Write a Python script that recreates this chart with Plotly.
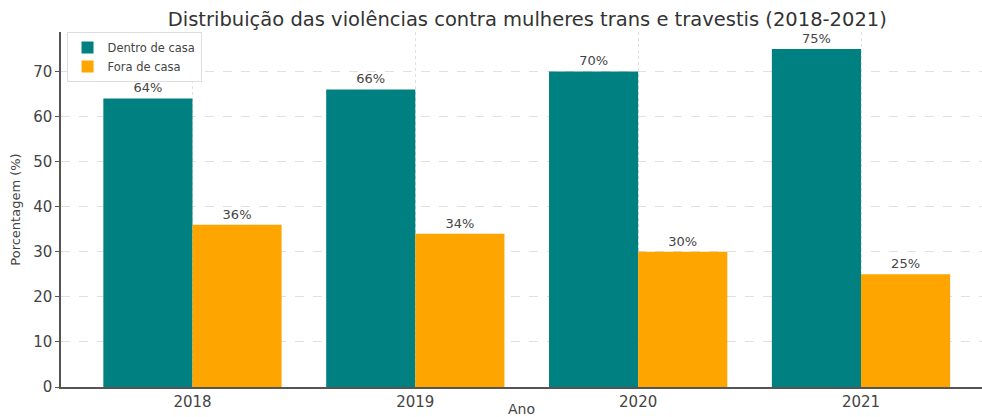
import plotly.graph_objects as go

anos = ["2018", "2019", "2020", "2021"]
dentro_de_casa = [64, 66, 70, 75]
fora_de_casa = [36, 34, 30, 25]

TEAL = "#008080"
ORANGE = "#FFA500"
TXT = "#444444"

fig = go.Figure()
for nome, vals, cor in [("Dentro de casa", dentro_de_casa, TEAL),
                        ("Fora de casa", fora_de_casa, ORANGE)]:
    fig.add_trace(go.Bar(
        x=anos, y=vals, name=nome, marker=dict(color=cor, line=dict(width=0)),
        text=[f"{v}%" for v in vals], textposition="outside",
        textfont=dict(size=13, color=TXT), cliponaxis=False,
    ))

fig.update_layout(
    width=982, height=417,
    margin=dict(l=61, r=0, t=32, b=30),
    paper_bgcolor="white", plot_bgcolor="white",
    font=dict(family="DejaVu Sans", color=TXT),
    title=dict(text="Distribuição das violências contra mulheres trans e travestis (2018-2021)",
               x=0.537, xanchor="center", y=0.954, yanchor="middle",
               font=dict(size=19.5, color="#333333")),
    barmode="group", bargap=0.2, bargroupgap=0,
    legend=dict(x=0.006, y=1.0, xanchor="left", yanchor="top",
                bgcolor="white", bordercolor="#dddddd", borderwidth=1,
                font=dict(size=11.5, color=TXT), tracegroupgap=0,
                itemwidth=30),
    showlegend=True,
)
fig.update_xaxes(
    type="category", range=[-0.59, 3.543], automargin=False,
    showline=True, linecolor="#555555", linewidth=1.5,
    showgrid=True, gridcolor="#e0e0e0", griddash="dot",
    ticks="", tickfont=dict(size=15, color=TXT),
    title=dict(text="Ano", font=dict(size=14, color=TXT), standoff=0),
)
fig.update_yaxes(
    range=[0, 78.75], dtick=10, automargin=False,
    showline=True, linecolor="#555555", linewidth=1.5,
    showgrid=True, gridcolor="#e0e0e0", griddash="dash",
    ticks="outside", ticklen=4, tickcolor="#555555",
    tickfont=dict(size=15, color=TXT),
    title=dict(text="Porcentagem (%)", font=dict(size=13, color=TXT), standoff=10),
    zeroline=False,
)

fig.write_html("out.html", config={"displayModeBar": False},
               post_script="document.body.style.margin='0';")
